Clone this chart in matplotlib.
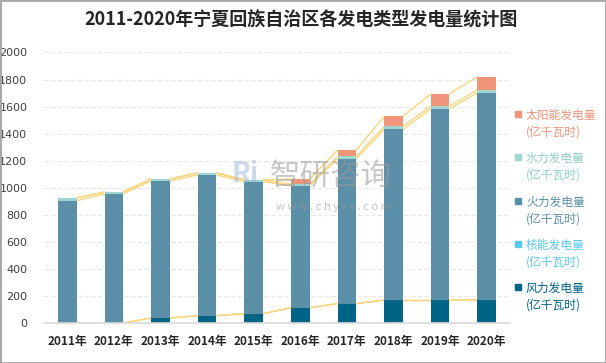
import matplotlib
matplotlib.use("Agg")
import matplotlib.pyplot as plt
from matplotlib.patches import Rectangle
import numpy as np

plt.rcParams['font.family'] = ['Noto Sans CJK SC', 'DejaVu Sans']

years = ['2011年', '2012年', '2013年', '2014年', '2015年', '2016年', '2017年', '2018年', '2019年', '2020年']
wind = [0, 0, 37, 54, 69, 113, 143, 170, 170, 171]
nuclear = [0, 0, 0, 0, 0, 0, 0, 0, 0, 0]
thermal = [905, 955, 1014, 1041, 977, 901, 1071, 1261, 1414, 1532]
hydro = [20, 14, 15, 15, 12, 12, 17, 22, 20, 22]
solar = [0, 0, 0, 0, 0, 37, 49, 74, 91, 96]

series_names = ['风力发电量\n(亿千瓦时)', '核能发电量\n(亿千瓦时)', '火力发电量\n(亿千瓦时)',
                '水力发电量\n(亿千瓦时)', '太阳能发电量\n(亿千瓦时)']
colors = ['#006487', '#5BC8EF', '#5B8FA8', '#9FD6D2', '#F0957A']
yticks = list(range(0, 2001, 200))

fig = plt.figure(figsize=(6.06, 3.63), dpi=100)
ax = fig.add_axes([0.0726, 0.1102, 0.769, 0.7452])

x = np.arange(len(years))
w = 0.4
data = [wind, nuclear, thermal, hydro, solar]
bottom = np.zeros(len(years))
tops = []
for vals, c in zip(data, colors):
    v = np.array(vals, dtype=float)
    ax.bar(x, v, w, bottom=bottom, color=c, zorder=3)
    bottom = bottom + v
    tops.append(bottom.copy())

# series lines (connect segment tops between adjacent bars)
for t in tops:
    for i in range(len(years) - 1):
        ax.plot([x[i] + w / 2, x[i + 1] - w / 2], [t[i], t[i + 1]],
                color='#F9D67E', lw=1.0, zorder=2, solid_capstyle='butt')

ax.set_xlim(-0.5, len(years) - 0.5)
ax.set_ylim(0, 2000)
ax.set_yticks(yticks)
ax.set_yticklabels([str(v) for v in yticks], fontsize=8, color='#404040', family=['DejaVu Sans'])
ax.set_xticks(x)
ax.set_xticklabels(years, fontsize=8.5, color='#262626', fontweight='bold')
ax.tick_params(axis='both', length=0)
ax.tick_params(axis='y', pad=12)
ax.tick_params(axis='x', pad=9)
ax.grid(axis='y', color='#E8E8E8', lw=0.8, ls=(0, (4, 2)), zorder=0)
for s in ['top', 'right', 'left']:
    ax.spines[s].set_visible(False)
ax.spines['bottom'].set_color('#D9D9D9')
ax.spines['bottom'].set_linewidth(1.2)
ax.spines['bottom'].set_zorder(4)

# title
fig.text(0.497, 0.945, '2011-2020年宁夏回族自治区各发电类型发电量统计图',
         ha='center', va='center', fontsize=13, fontweight='bold', color='#262626')

# legend (top to bottom: solar, hydro, thermal, nuclear, wind)
leg_y = [124, 167, 211, 254, 297]
for k, (name, c) in enumerate(zip(series_names[::-1], colors[::-1])):
    yy = 1 - leg_y[k] / 363
    fig.patches.append(Rectangle((515 / 606, yy + 0.0195), 6 / 606, 6 / 363,
                                 transform=fig.transFigure, color=c, figure=fig))
    fig.text(526 / 606, yy, name, ha='left', va='center', fontsize=8.5,
             color=c if c not in ('#9FD6D2',) else '#8FD0CB', linespacing=1.35)

# watermark
fig.text(0.445, 0.515, '智研咨询', ha='left', va='center', fontsize=22, color='#9A9A9A', alpha=0.55)
fig.text(0.382, 0.520, 'Ri', ha='left', va='center', fontsize=20, color='#9DB7D8', alpha=0.5, fontweight='bold')
fig.text(0.455, 0.43, 'w w w . c h y x x . c o m', ha='left', va='center', fontsize=8, color='#9A9A9A', alpha=0.6)

# border
fig.patches.append(Rectangle((0, 0), 1, 1, transform=fig.transFigure, fill=False,
                             edgecolor='#A6A6A6', lw=2, figure=fig))

fig.savefig('out.png', dpi=100)
